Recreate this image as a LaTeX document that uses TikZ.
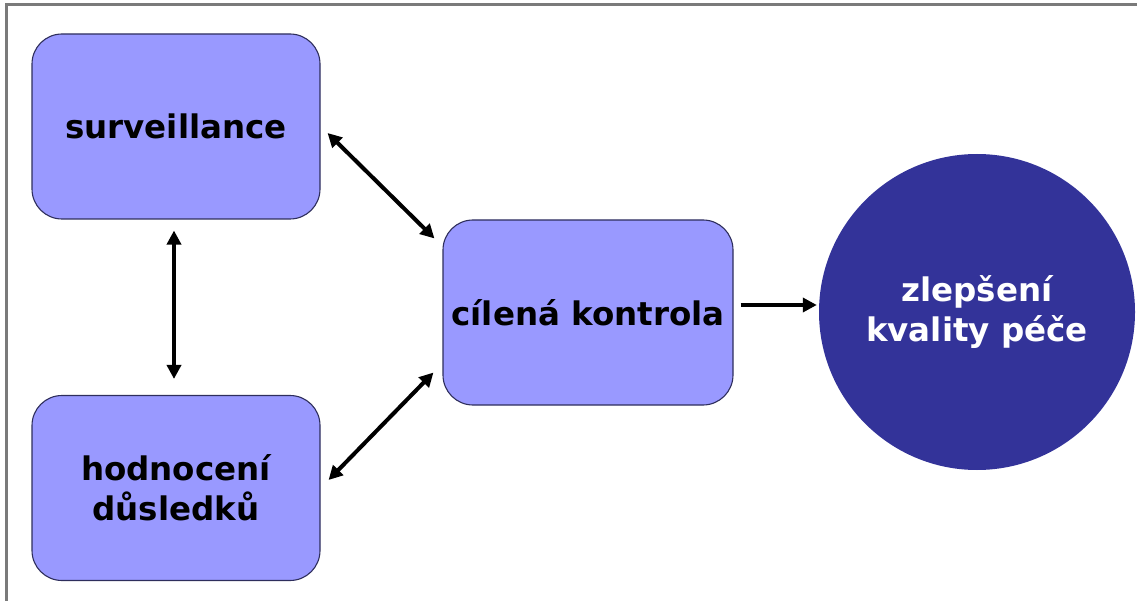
\documentclass[tikz,border=0pt]{standalone}
\usepackage{fontspec}
\setmainfont{DejaVu Sans}
\usetikzlibrary{arrows.meta}
\definecolor{boxfill}{HTML}{9999FF}
\definecolor{boxline}{HTML}{2E2E5C}
\definecolor{goalfill}{HTML}{333399}
\definecolor{frameline}{HTML}{7A7A7A}
\tikzset{
  stage/.style={draw=boxline, line width=1.1pt, fill=boxfill, rounded corners=30pt,
    minimum width=288pt, minimum height=185pt, inner sep=0pt, align=center,
    font=\fontsize{32.5}{40}\selectfont\bfseries},
  goal/.style={circle, fill=goalfill, minimum size=316pt, inner sep=0pt, align=center,
    text=white, font=\fontsize{32.5}{40}\selectfont\bfseries},
  link/.style={line width=4pt, {Triangle[length=14pt,width=14pt]}-{Triangle[length=14pt,width=14pt]}},
  onelink/.style={line width=4pt, -{Triangle[length=14pt,width=14pt]}},
}
\begin{document}
\begin{tikzpicture}[x=1pt,y=-1pt]
\useasboundingbox (0,0) rectangle (1137,601);
% frame edges
\draw[frameline, line width=2.8pt] (6.5,601) -- (6.5,4.5) -- (1137,4.5);

\node[stage] (surv) at (176,126.5) {surveillance};
\node[stage] (hod) at (176,488) {hodnocení\\důsledků};
\node[stage, minimum width=290pt] (cil) at (588,312.5) {cílená kontrola};
\node[goal] (zlep) at (977,312) {zlepšení\\kvality péče};

\draw[link] ([shift={(7,6.5)}]surv.east) -- ([shift={(-8,19)}]cil.north west);
\draw[link] ([shift={(-2,11)}]surv.south) -- ([shift={(-2,-16)}]hod.north);
\draw[link] ([shift={(8,-8)}]hod.east) -- ([shift={(-9,-33)}]cil.south west);
\draw[onelink] ([shift={(7,-7.5)}]cil.east) -- ([shift={(-2,-7)}]zlep.west);
\end{tikzpicture}
\end{document}
